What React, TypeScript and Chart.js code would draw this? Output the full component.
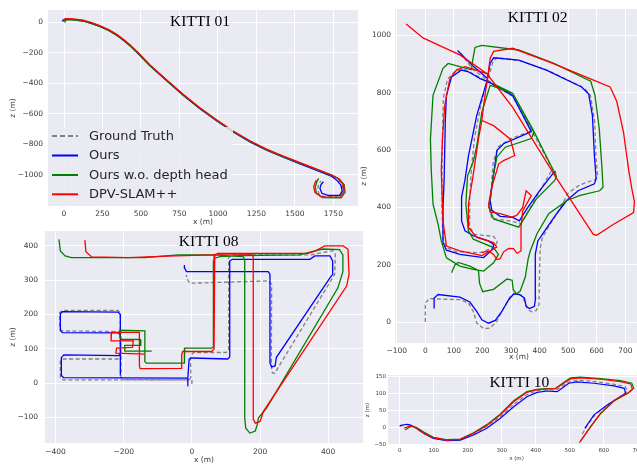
import React, { useEffect, useRef } from 'react';
import { Chart, registerables } from 'chart.js';

Chart.register(...registerables);

type P = [number, number] | null;

const SERIES_LABELS = ['Ground Truth', 'Ours', 'Ours w.o. depth head', 'DPV-SLAM++'];
const SERIES_COLORS = ['#808080', '#0000ff', '#008000', '#ff0000'];

// ---------------- KITTI 01 ----------------
const K01_X_TICKS = [0, 250, 500, 750, 1000, 1250, 1500, 1750];
const K01_Y_TICKS = [-1000, -800, -600, -400, -200, 0];
const K01_GT: P[] = [[-2,2],[2,14],[15,21],[60,19],[124,10],[180,-6],[232,-25],[290,-51],[340,-81],[390,-118],[430,-152],[492,-213],[557,-281],[666,-379],[774,-475],[883,-563],[991,-641],[1099,-715],[1208,-779],[1316,-834],[1425,-879],[1533,-922],[1642,-964],[1740,-1004],[1782,-1030],[1806,-1062],[1811,-1102],[1796,-1132],[1762,-1142],[1690,-1141],[1658,-1127],[1648,-1095],[1654,-1062],[1668,-1040]];
const K01_OURS: P[] = [[-12,5],[-4,16],[12,20],[60,17],[124,8],[180,-9],[232,-28],[290,-54],[340,-84],[390,-121],[430,-155],[492,-216],[557,-284],[666,-382],[774,-478],[883,-566],[991,-645],[1099,-719],[1208,-783],[1316,-838],[1425,-884],[1533,-927],[1642,-970],[1740,-1010],[1772,-1034],[1800,-1068],[1807,-1108],[1790,-1133],[1715,-1134],[1675,-1120],[1663,-1088],[1670,-1062],[1685,-1044]];
const K01_NODEPTH: P[] = [[5,-3],[9,10],[22,17],[60,16],[124,8],[180,-8],[232,-27],[290,-53],[340,-83],[390,-120],[430,-154],[492,-215],[557,-283],[666,-381],[774,-477],[883,-565],[991,-643],[1099,-717],[1208,-781],[1316,-836],[1425,-881],[1533,-923],[1642,-965],[1740,-1003],[1790,-1028],[1820,-1064],[1826,-1113],[1800,-1150],[1680,-1148],[1640,-1120],[1632,-1080],[1645,-1038],[1655,-1022]];
const K01_DPV: P[] = [[-5,8],[4,20],[20,24],[60,22],[124,13],[180,-3],[232,-22],[290,-48],[340,-78],[390,-115],[430,-149],[492,-210],[557,-278],[666,-376],[774,-472],[883,-560],[991,-638],[1099,-712],[1208,-776],[1316,-831],[1425,-876],[1533,-919],[1642,-961],[1740,-1000],[1785,-1024],[1813,-1062],[1819,-1112],[1792,-1147],[1672,-1143],[1630,-1114],[1622,-1078],[1632,-1048],[1640,-1034]];

// ---------------- KITTI 02 ----------------
const K02_X_TICKS = [-100, 0, 100, 200, 300, 400, 500, 600, 700];
const K02_Y_TICKS = [0, 200, 400, 600, 800, 1000];
const K02_GT: P[] = [[0,0],[0,67],[15,82],[121,78],[151,67],[168,37],[180,-3],[204,-23],[227,-21],[250,2],[274,49],[298,90],[315,100],[335,95],[350,68],[358,45],[372,36],[388,40],[398,60],[400,180],[402,258],[410,295],[430,330],[465,385],[500,450],[540,478],[596,498],[603,512],[598,570],[593,700],[578,790],[560,812],[545,822],[430,877],[330,912],[250,922],[236,905],[226,870],[195,760],[172,640],[162,540],[156,440],[155,335],[170,306],[239,299],[252,282],[245,262],[192,242],[110,245],[74,260],[62,290],[58,400],[59,600],[63,780],[78,848],[108,878],[140,880],[175,862],[215,840],[306,788],[375,663],[459,508],[455,525],[440,525],[335,343],[300,352],[232,362],[226,400],[238,560],[256,612],[300,640],[375,668],[306,788],[227,838],[168,880],[120,942]];
const K02_OURS: P[] = [[31,47],[31,84],[45,96],[121,87],[156,70],[180,37],[198,8],[221,-4],[245,6],[268,37],[292,78],[309,98],[329,96],[347,84],[353,55],[365,47],[382,55],[386,84],[384,178],[386,236],[394,283],[418,318],[459,377],[494,423],[535,458],[592,482],[598,500],[592,579],[585,720],[572,795],[547,820],[424,879],[327,914],[239,922],[227,902],[215,838],[180,720],[151,579],[139,496],[127,435],[127,353],[139,318],[168,301],[221,283],[240,270],[232,250],[204,225],[121,236],[74,251],[62,277],[62,400],[66,496],[70,700],[74,791],[92,855],[127,879],[151,873],[192,849],[227,835],[306,790],[371,664],[274,622],[251,599],[239,517],[227,424],[233,390],[262,369],[306,365],[329,353],[359,400],[400,458],[441,511],[455,526],null,[113,947],[168,892],[215,852]];
const K02_NODEPTH: P[] = [[92,172],[104,200],[115,208],[156,195],[186,180],[190,135],[201,106],[239,114],[286,150],[304,146],[308,112],[320,98],[332,108],[350,157],[360,220],[368,250],[391,308],[432,378],[496,424],[542,442],[610,458],[622,470],[618,544],[609,673],[594,791],[579,840],[450,902],[327,949],[198,965],[174,958],[166,914],[162,880],[121,891],[80,902],[62,885],[27,791],[18,638],[21,529],[27,412],[45,341],[56,283],[74,224],[121,195],[168,184],[204,178],[239,207],[256,236],[239,260],[168,289],[151,318],[142,412],[148,510],[168,560],[180,614],[198,732],[227,826],[306,798],[376,673],[459,508],[453,494],[388,429],[327,331],[239,360],[222,401],[240,520],[251,576],[280,610],[371,640],[380,662],[306,798],[240,830]];
const K02_DPV: P[] = [[-67,1040],[-8,991],[60,960],[121,932],[215,867],[306,749],[459,502],[588,306],[600,303],[659,341],[729,382],[732,420],[724,459],[712,529],[694,661],[670,770],[647,820],[576,849],[440,905],[306,955],[239,944],[227,920],[221,873],[204,755],[198,703],[186,638],[166,502],[151,412],[151,330],[180,295],[239,277],[250,262],[227,248],[198,232],[121,248],[74,265],[62,353],[56,529],[60,638],[68,755],[86,849],[110,880],[139,891],[180,878],[215,867],null,[198,703],[239,685],[298,638],[313,581],[274,563],[257,552],[233,471],[222,413],[227,384],[262,378],[303,366],[320,372],[341,400],[353,458],[371,441],[341,388],[335,330],[335,295],[335,248],[321,240],[309,256],[292,257],[274,245],[262,221],[251,218],[239,236],[221,248],[198,242]];

// ---------------- KITTI 08 ----------------
const K08_X_TICKS = [-400, -200, 0, 200, 400];
const K08_Y_TICKS = [-100, 0, 100, 200, 300, 400];
const K08_GT: P[] = [[0,-3],[0,9],[-200,9],[-378,9],[-386,16],[-386,64],[-378,70],[-215,70],[-210,76],[-210,205],[-217,212],[-380,212],[-388,205],[-388,158],[-380,152],[-215,150],[-208,144],[-208,16],[-200,10],[-8,9],[-3,16],[-4,80],[5,89],[100,89],[108,96],[108,365],[115,374],[351,374],[365,377],[414,386],[421,375],[419,317],[253,45],[243,28],[236,30],[233,50],[234,288],[224,298],[-6,291],[-16,306],[-16,315]];
const K08_OURS: P[] = [[-13,-8],[-12,14],[-8,70],[0,73],[105,70],[111,76],[111,356],[119,361],[346,361],[361,371],[405,371],[413,356],[413,317],[405,307],[248,75],[244,50],[234,47],[229,59],[229,317],[224,325],[23,325],[-16,325],[-21,335],[-22,344],null,[-12,14],[-208,15],[-377,16],[-383,22],[-383,74],[-376,82],[-215,80],[-210,85],[-210,200],[-216,207],[-380,208],[-386,202],[-386,153],[-380,147],[-215,146],[-210,140],[-210,22]];
const K08_NODEPTH: P[] = [[-390,419],[-386,385],[-372,371],[-353,366],[-138,366],[-40,374],[63,374],[121,370],[150,369],[155,360],[155,-102],[158,-132],[170,-146],[186,-140],[192,-120],[195,-102],[219,-73],[428,277],[443,325],[443,374],[433,389],[385,391],[352,383],[317,374],[150,372],[82,369],[67,364],[63,355],[63,104],[57,102],[-21,102],[-22,92],[-22,58],[-133,58],[-138,62],[-138,152],[-211,154],[-211,132],[-206,127],[-152,127],[-150,110],[-197,110],[-197,93],[-118,93]];
const K08_DPV: P[] = [[-314,417],[-311,383],[-294,368],[-187,366],[-74,370],[63,374],[72,376],[174,376],[180,368],[180,-105],[186,-117],[200,-112],[206,-95],[209,-84],[454,283],[461,317],[458,390],[444,400],[390,400],[361,385],[340,378],[75,378],[67,372],[65,360],[65,99],[58,92],[-27,92],[-30,82],[-30,43],[-152,42],[-154,50],[-154,148],[-236,148],[-237,123],[-172,123],[-174,104],[-221,102],[-223,87],[-138,84]];

// ---------------- KITTI 10 ----------------
const K10_X_TICKS = [0, 100, 200, 300, 400, 500, 600, 700];
const K10_Y_TICKS = [-50, 0, 50, 100, 150];
const K10_GT: P[] = [[0,3],[20,8],[32,6],[46,-1],[70,-18],[99,-32],[139,-39],[178,-37],[217,-20],[256,3],[296,32],[335,68],[374,97],[404,109],[433,111],[460,111],[480,124],[500,136],[525,140],[575,136],[630,128],[663,121],[670,108],[656,96],[615,69],[575,38],[550,4],[536,-22]];
const K10_OURS: P[] = [[0,5],[21,9],[30,7],[45,0],[70,-18],[99,-33],[139,-40],[178,-38],[217,-23],[256,-3],[296,27],[335,61],[374,91],[404,104],[433,108],[463,106],[477,116],[497,131],[521,135],[571,131],[630,123],[660,116],[664,101],[650,92],[610,66],[571,37],[544,-3]];
const K10_NODEPTH: P[] = [[16,-8],[28,0],[38,3],[50,-1],[72,-15],[99,-30],[139,-37],[178,-35],[217,-16],[256,8],[296,40],[335,79],[374,106],[404,113],[433,115],[458,116],[482,133],[502,147],[531,149],[590,145],[649,139],[682,131],[688,116],[672,102],[632,80],[590,40],[560,0],[528,-46]];
const K10_DPV: P[] = [[12,-3],[25,2],[35,3],[48,-2],[70,-17],[99,-31],[139,-38],[178,-36],[217,-18],[256,5],[296,37],[335,76],[374,104],[404,112],[433,114],[458,115],[482,131],[502,144],[531,147],[590,143],[649,136],[679,129],[684,113],[669,101],[630,80],[590,41],[561,2],[531,-42]];

interface PanelSpec {
  key: string;
  title: string;
  titleXY: [number, number];
  left: number; top: number; width: number; height: number;
  pad: { left: number; top: number; right: number };
  yWidth: number; xHeight: number;
  xRange: [number, number]; yRange: [number, number];
  xTicks: number[]; yTicks: number[];
  series: P[][];
  tickSize: number;
  tickPadX: number; tickPadY: number;
  xTitlePad: number; yTitlePad: number;
  lineWidth: number;
  legend?: boolean;
}

const PANELS: PanelSpec[] = [
  {
    key: 'k01', title: 'KITTI 01', titleXY: [200, 22],
    left: 0, top: 0, width: 360, height: 228,
    pad: { left: 8, top: 10, right: 2 }, yWidth: 40, xHeight: 22,
    xRange: [-104, 1910], yRange: [-1203, 80],
    xTicks: K01_X_TICKS, yTicks: K01_Y_TICKS,
    series: [K01_GT, K01_OURS, K01_NODEPTH, K01_DPV],
    tickSize: 7.5, tickPadX: 4, tickPadY: 5, xTitlePad: 1, yTitlePad: 1, lineWidth: 1.3, legend: true,
  },
  {
    key: 'k02', title: 'KITTI 02', titleXY: [177.7, 18],
    left: 360, top: 0, width: 284, height: 362,
    pad: { left: 0, top: 9, right: 1 }, yWidth: 35, xHeight: 19,
    xRange: [-106, 762], yRange: [-73, 1092],
    xTicks: K02_X_TICKS, yTicks: K02_Y_TICKS,
    series: [K02_GT, K02_OURS, K02_NODEPTH, K02_DPV],
    tickSize: 7.5, tickPadX: 4, tickPadY: 4, xTitlePad: 0, yTitlePad: 0, lineWidth: 1.3,
  },
  {
    key: 'k08', title: 'KITTI 08', titleXY: [208.7, 13.7],
    left: 0, top: 228, width: 364, height: 237,
    pad: { left: 8, top: 3, right: 1 }, yWidth: 37, xHeight: 22,
    xRange: [-431, 502], yRange: [-175, 443.5],
    xTicks: K08_X_TICKS, yTicks: K08_Y_TICKS,
    series: [K08_GT, K08_OURS, K08_NODEPTH, K08_DPV],
    tickSize: 7.5, tickPadX: 5, tickPadY: 7, xTitlePad: 0, yTitlePad: 1, lineWidth: 1.3,
  },
  {
    key: 'k10', title: 'KITTI 10', titleXY: [155.3, 21.7],
    left: 364, top: 361, width: 282, height: 103,
    pad: { left: 0, top: 14, right: 1 }, yWidth: 24, xHeight: 19,
    xRange: [-34.4, 721], yRange: [-52.7, 155.6],
    xTicks: K10_X_TICKS, yTicks: K10_Y_TICKS,
    series: [K10_GT, K10_OURS, K10_NODEPTH, K10_DPV],
    tickSize: 5.5, tickPadX: 2, tickPadY: 2, xTitlePad: 2.5, yTitlePad: 0, lineWidth: 1.2,
  },
];

const fmt = (v: number) => (v < 0 ? '\u2212' + Math.abs(v) : String(v));

function toXY(arr: P[]) {
  const out: { x: number; y: number | null }[] = [];
  let lastX = 0;
  for (const p of arr) {
    if (p === null) out.push({ x: lastX, y: null });
    else { out.push({ x: p[0], y: p[1] }); lastX = p[0]; }
  }
  return out;
}

function makeOverlay(spec: PanelSpec) {
  return {
    id: 'overlay_' + spec.key,
    beforeDraw(chart: any) {
      const { ctx, chartArea: a, width, height } = chart;
      ctx.save();
      ctx.fillStyle = '#ffffff';
      ctx.fillRect(0, 0, width, height);
      ctx.fillStyle = '#eaeaf2';
      ctx.fillRect(a.left, a.top, a.right - a.left, a.bottom - a.top);
      ctx.restore();
    },
    afterDatasetsDraw(chart: any) {
      if (!spec.legend) return;
      const ctx = chart.ctx;
      ctx.save();
      ctx.fillStyle = 'rgba(234,234,242,0.85)';
      ctx.fillRect(48, 127, 185, 79);
      const rows = [136, 155.5, 175, 194.3];
      SERIES_LABELS.forEach((lab, i) => {
        ctx.beginPath();
        ctx.strokeStyle = SERIES_COLORS[i];
        ctx.lineWidth = 2;
        ctx.setLineDash(i === 0 ? [5, 3] : []);
        ctx.moveTo(52, rows[i]);
        ctx.lineTo(78, rows[i]);
        ctx.stroke();
        ctx.setLineDash([]);
        ctx.fillStyle = '#262626';
        ctx.font = '13px "DejaVu Sans"';
        ctx.textAlign = 'left';
        ctx.textBaseline = 'middle';
        ctx.fillText(lab, 89, rows[i] + 0.5);
      });
      ctx.restore();
    },
    afterDraw(chart: any) {
      const ctx = chart.ctx;
      ctx.save();
      ctx.fillStyle = '#000000';
      ctx.font = '15.5px "Liberation Serif"';
      ctx.textAlign = 'center';
      ctx.textBaseline = 'middle';
      ctx.fillText(spec.title, spec.titleXY[0], spec.titleXY[1]);
      ctx.restore();
    },
  };
}

function Panel({ spec }: { spec: PanelSpec }) {
  const ref = useRef<HTMLCanvasElement | null>(null);
  useEffect(() => {
    if (!ref.current) return;
    const tickFont = { family: 'DejaVu Sans', size: spec.tickSize, lineHeight: 1.2 };
    const chart = new Chart(ref.current, {
      type: 'scatter',
      data: {
        datasets: spec.series.map((s, i) => ({
          label: SERIES_LABELS[i],
          data: toXY(s),
          borderColor: SERIES_COLORS[i],
          backgroundColor: SERIES_COLORS[i],
          borderWidth: spec.lineWidth,
          borderDash: i === 0 ? [4, 2.5] : [],
          pointRadius: 0,
          pointHoverRadius: 0,
          showLine: true,
          tension: 0,
          spanGaps: false,
          order: 4 - i,
        })),
      } as any,
      options: {
        animation: false,
        responsive: false,
        maintainAspectRatio: false,
        devicePixelRatio: 1,
        events: [],
        layout: { padding: { left: spec.pad.left, top: spec.pad.top, right: spec.pad.right, bottom: 0 } },
        plugins: { legend: { display: false }, tooltip: { enabled: false }, title: { display: false } },
        scales: {
          x: {
            type: 'linear',
            min: spec.xRange[0],
            max: spec.xRange[1],
            afterBuildTicks: (s: any) => { s.ticks = spec.xTicks.map((v) => ({ value: v })); },
            afterFit: (s: any) => { s.height = spec.xHeight; s.paddingLeft = 0; s.paddingRight = 0; },
            grid: { color: '#ffffff', lineWidth: 1, drawTicks: false },
            border: { display: false },
            ticks: { autoSkip: false, maxRotation: 0, minRotation: 0, padding: spec.tickPadX, font: tickFont, color: '#3a3a3a', callback: (v: any) => fmt(Number(v)) },
            title: { display: true, text: 'x (m)', font: tickFont, color: '#3a3a3a', padding: { top: 0, bottom: spec.xTitlePad } },
          },
          y: {
            type: 'linear',
            min: spec.yRange[0],
            max: spec.yRange[1],
            afterBuildTicks: (s: any) => { s.ticks = spec.yTicks.map((v) => ({ value: v })); },
            afterFit: (s: any) => { s.width = spec.yWidth; s.paddingTop = 0; s.paddingBottom = 0; },
            grid: { color: '#ffffff', lineWidth: 1, drawTicks: false },
            border: { display: false },
            ticks: { autoSkip: false, padding: spec.tickPadY, font: tickFont, color: '#3a3a3a', callback: (v: any) => fmt(Number(v)) },
            title: { display: true, text: 'z (m)', font: tickFont, color: '#3a3a3a', padding: { top: spec.yTitlePad, bottom: 0 } },
          },
        },
      } as any,
      plugins: [makeOverlay(spec)],
    });
    return () => chart.destroy();
  }, [spec]);
  return (
    <canvas
      ref={ref}
      width={spec.width}
      height={spec.height}
      style={{ position: 'absolute', left: spec.left, top: spec.top, width: spec.width, height: spec.height, display: 'block' }}
    />
  );
}

export default function App() {
  return (
    <div style={{ position: 'absolute', left: 0, top: 0, width: 637, height: 464, overflow: 'hidden', background: '#ffffff' }}>
      {PANELS.map((p) => (
        <Panel key={p.key} spec={p} />
      ))}
    </div>
  );
}
